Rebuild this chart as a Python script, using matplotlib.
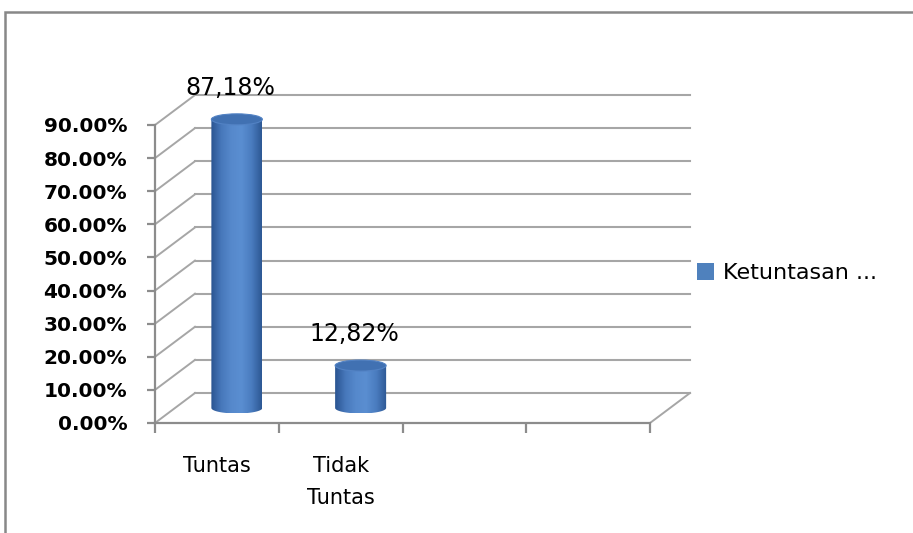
import numpy as np
import matplotlib
matplotlib.use('Agg')
import matplotlib.pyplot as plt
from matplotlib.patches import Ellipse, Polygon, Patch, Rectangle
from matplotlib.colors import LinearSegmentedColormap
from matplotlib.ticker import PercentFormatter

# Data
categories = ['Tuntas', 'Tidak\nTuntas']
values = [0.8718, 0.1282]
n_slots = 4
series_name = 'Ketuntasan ...'
y_ticks = np.arange(0, 0.91, 0.1)

plt.rcParams['font.family'] = 'DejaVu Sans'

fig = plt.figure(figsize=(9.13, 5.33), dpi=100)
W, H = 913, 533

# front plane: x 0..4 -> 155..650 px, y 0..0.9 -> 423..125 px
px_x = 495 / n_slots
px_y = 298 / 0.9
ax = fig.add_axes([155 / W, (H - 423) / H, 4.4 * px_x / W, 1.0 * px_y / H])
ax.set_xlim(0, 4.4)
ax.set_ylim(0, 1.0)

# depth offset of the back wall (pixels -> data units)
dx = 40 / px_x
dy = 30 / px_y

grid_c = '#a6a6a6'
axis_c = '#8c8c8c'

# back wall gridlines and side-wall diagonals
for v in y_ticks:
    ax.plot([dx, n_slots + dx], [v + dy, v + dy], color=grid_c, lw=1.5, zorder=1)
    ax.plot([0, dx], [v, v + dy], color=grid_c, lw=1.4, zorder=1)
ax.plot([n_slots, n_slots + dx], [0, dy], color=grid_c, lw=1.4, zorder=1)

# axes
for s in ['top', 'right']:
    ax.spines[s].set_visible(False)
ax.spines['left'].set_bounds(0, 0.9)
ax.spines['bottom'].set_bounds(0, n_slots)
for s in ['left', 'bottom']:
    ax.spines[s].set_color(axis_c)
    ax.spines[s].set_linewidth(1.6)

ax.set_yticks(y_ticks)
ax.yaxis.set_major_formatter(PercentFormatter(xmax=1, decimals=2))
ax.tick_params(axis='y', length=6, width=1.6, color=axis_c, pad=14,
               labelsize=14.5)
for lab in ax.get_yticklabels():
    lab.set_fontweight('bold')

ax.set_xticks(np.arange(0, n_slots + 1))
ax.set_xticklabels([])
ax.tick_params(axis='x', which='major', length=7, width=1.6, color=axis_c)
ax.set_xticks(np.arange(len(categories)) + 0.5, minor=True)
ax.set_xticklabels(categories, minor=True, fontsize=15, linespacing=1.75)
ax.tick_params(axis='x', which='minor', length=0, pad=24)
for lab in ax.get_xticklabels(minor=True):
    lab.set_verticalalignment('top')

# cylinders
cyl_cmap = LinearSegmentedColormap.from_list(
    'cyl', ['#2a5491', '#4778bb', '#5689cc', '#5a8ed1', '#4a7cbf', '#2d5894'])
grad = np.linspace(0, 1, 128).reshape(1, -1)
bw = 51 / px_x
eh = 11 / px_y

for i, v in enumerate(values):
    xc = i + 0.5 + dx / 2
    yb = dy / 2
    yt = v + dy / 2
    x0, x1 = xc - bw / 2, xc + bw / 2
    t = np.linspace(np.pi, 2 * np.pi, 40)
    bottom = np.column_stack([xc + bw / 2 * np.cos(t), yb + eh / 2 * np.sin(t)])
    body = np.vstack([[x0, yt], bottom, [x1, yt]])
    clip = Polygon(body, closed=True, transform=ax.transData, facecolor='none',
                   edgecolor='none')
    ax.add_patch(clip)
    im = ax.imshow(grad, extent=[x0, x1, yb - eh / 2, yt], aspect='auto',
                   cmap=cyl_cmap, zorder=3, interpolation='bilinear')
    im.set_clip_path(clip)
    ax.add_patch(Ellipse((xc, yt), bw, eh, facecolor='#4171b2',
                         edgecolor='#5282c4', lw=0.8, zorder=4))
    ax.annotate(f'{v * 100:.2f}%'.replace('.', ','), (xc, yt),
                xytext=(-4.5, 22.5), textcoords='offset points',
                ha='center', va='center', fontsize=17, zorder=5)

ax.set_xlim(0, 4.4)
ax.set_ylim(0, 1.0)
ax.set_facecolor('none')

# legend
fig.legend(handles=[Patch(facecolor='#4f81bd', edgecolor='none')],
           labels=[series_name], loc='center left',
           bbox_to_anchor=(697 / W, 1 - 273 / H), frameon=False,
           fontsize=16, handlelength=0.77, handleheight=0.77,
           handletextpad=0.4, borderaxespad=0, borderpad=0)

# chart frame
fig.patches.append(Rectangle((5 / W, -0.1), 1.2, 1.1 - 12 / H,
                             transform=fig.transFigure, fill=False,
                             edgecolor='#888888', lw=1.8))

fig.savefig('out.png', dpi=100)
